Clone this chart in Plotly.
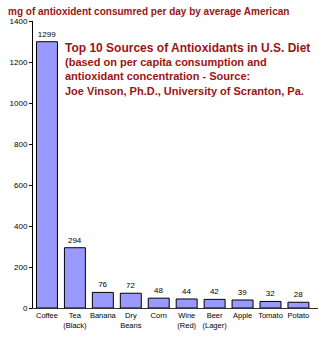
import plotly.graph_objects as go

# Top 10 antioxidant sources in the U.S. diet (mg consumed per day)
foods = ["Coffee", "Tea<br>(Black)", "Banana", "Dry<br>Beans", "Corn",
         "Wine<br>(Red)", "Beer<br>(Lager)", "Apple", "Tomato", "Potato"]
mg_per_day = [1299, 294, 76, 72, 48, 44, 42, 39, 32, 28]
y_ticks = [0, 200, 400, 600, 800, 1000, 1200, 1400]

DARK_RED = "#9b1414"
FONT = "Liberation Sans, Arial, sans-serif"

fig = go.Figure(
    go.Bar(
        x=list(range(len(foods))),
        y=mg_per_day,
        marker=dict(color="#9999ff", line=dict(color="#000000", width=1)),
        text=[str(v) for v in mg_per_day],
        textposition="outside",
        textfont=dict(size=8, color="#000000", family=FONT),
        cliponaxis=False,
        width=0.75,
    )
)

fig.update_layout(
    width=323,
    height=338,
    margin=dict(l=33, r=5, t=21, b=30),
    paper_bgcolor="#ffffff",
    plot_bgcolor="#ffffff",
    showlegend=False,
    font=dict(family=FONT, size=8, color="#000000"),
    xaxis=dict(
        range=[-0.5, 9.7],
        tickmode="array",
        tickvals=list(range(len(foods))),
        ticktext=foods,
        tickangle=0,
        showgrid=False,
        zeroline=False,
        showline=True,
        linecolor="#333333",
        linewidth=1,
        ticks="",
        tickfont=dict(size=7.5, family=FONT, color="#000000"),
        fixedrange=True,
    ),
    yaxis=dict(
        range=[0, 1400],
        tickvals=y_ticks,
        showgrid=False,
        zeroline=False,
        showline=True,
        linecolor="#000000",
        linewidth=1,
        ticks="outside",
        ticklen=3,
        tickcolor="#000000",
        tickfont=dict(size=8, family=FONT, color="#000000"),
        fixedrange=True,
    ),
    annotations=[
        dict(
            text="<b>mg of antioxident consumred per day by average American</b>",
            xref="paper", yref="paper", x=-0.095, y=1.0, yshift=10,
            xanchor="left", yanchor="middle", showarrow=False,
            font=dict(size=10, color=DARK_RED, family=FONT),
        ),
        dict(
            text="<b>Top 10 Sources of Antioxidants in U.S. Diet</b>",
            xref="paper", yref="paper", x=0.105, y=0.906,
            xanchor="left", yanchor="middle", showarrow=False,
            font=dict(size=12, color=DARK_RED, family=FONT),
        ),
        dict(
            text="<b>(based on per capita consumption and<br>"
                 "antioxidant concentration - Source:<br>"
                 "Joe Vinson, Ph.D., University of Scranton, Pa.</b>",
            xref="paper", yref="paper", x=0.105, y=0.885,
            xanchor="left", yanchor="top", align="left", showarrow=False,
            font=dict(size=11, color=DARK_RED, family=FONT),
        ),
    ],
)

fig.write_html("out.html")
